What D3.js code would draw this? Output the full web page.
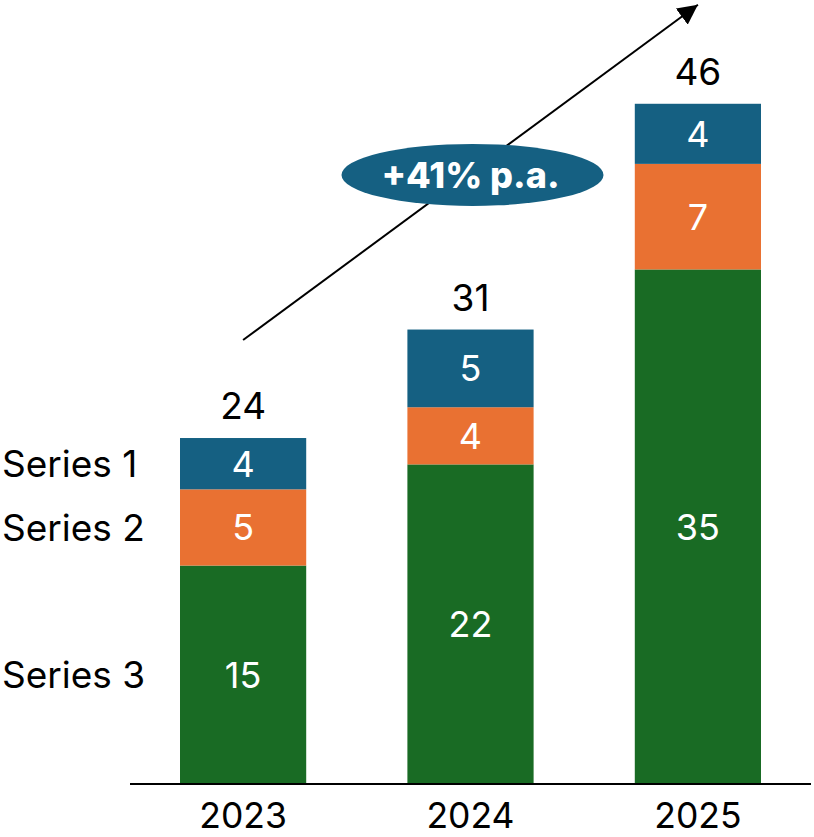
<!DOCTYPE html>
<html>
<head>
<meta charset="utf-8">
<script src="https://cdn.jsdelivr.net/npm/d3@7"></script>
<style>
  html, body { margin: 0; padding: 0; background: #ffffff; }
  svg { display: block; }
  text { font-family: Inter, "Liberation Sans", Arial, sans-serif; }
</style>
</head>
<body>
<svg id="chart" width="814" height="837"></svg>
<script>
// ---- data ----
const categories = ["2023", "2024", "2025"];
const seriesNames = ["Series 1", "Series 2", "Series 3"];
const series1 = [3.5, 5.3, 4.1];   // top (blue)
const series2 = [5.2, 3.9, 7.2];   // middle (orange)
const series3 = [14.9, 21.8, 35.1]; // bottom (green)
const seriesColors = ["#156082", "#E97132", "#196B24"];
const growthLabel = "+41% p.a.";

// ---- layout ----
const svg = d3.select("#chart");
const baseY = 784;

const x = d3.scaleBand().domain(categories).range([180, 761]).paddingInner(0.445).paddingOuter(0);
const y = d3.scaleLinear().domain([0, 50]).range([baseY, 51]);

// stack bottom -> top: series3, series2, series1
const rows = categories.map((c, i) => ({cat: c, s1: series1[i], s2: series2[i], s3: series3[i]}));
const stack = d3.stack().keys(["s3", "s2", "s1"]);
const stacked = stack(rows);
const colorByKey = {s1: seriesColors[0], s2: seriesColors[1], s3: seriesColors[2]};

const layers = svg.append("g").selectAll("g").data(stacked).join("g")
  .attr("fill", d => colorByKey[d.key]);

layers.selectAll("rect").data(d => d).join("rect")
  .attr("x", d => x(d.data.cat))
  .attr("width", x.bandwidth())
  .attr("y", d => y(d[1]))
  .attr("height", d => y(d[0]) - y(d[1]));

// inner value labels
layers.selectAll("text").data(d => d.map(v => ({v, key: d.key}))).join("text")
  .attr("x", d => x(d.v.data.cat) + x.bandwidth() / 2)
  .attr("y", d => (y(d.v[0]) + y(d.v[1])) / 2)
  .attr("dy", "0.36em")
  .attr("text-anchor", "middle")
  .attr("fill", "#ffffff")
  .attr("font-size", 36)
  .text(d => Math.round(d.v.data[d.key]));

// totals
const totals = rows.map(r => r.s1 + r.s2 + r.s3);
svg.append("g").selectAll("text").data(rows).join("text")
  .attr("x", d => x(d.cat) + x.bandwidth() / 2)
  .attr("y", (d, i) => y(totals[i]) - 19)
  .attr("text-anchor", "middle")
  .attr("fill", "#000000")
  .attr("font-size", 37)
  .text((d, i) => Math.round(totals[i]));

// x axis
const xAxis = d3.axisBottom(x).tickSize(0).tickPadding(0);
const ax = svg.append("g").attr("transform", `translate(0,${baseY})`).call(xAxis);
ax.select(".domain").remove();
ax.selectAll("text")
  .attr("font-family", "Inter, 'Liberation Sans', Arial, sans-serif")
  .attr("font-size", 35.5)
  .attr("fill", "#000")
  .attr("dy", null)
  .attr("y", 44);
svg.append("line")
  .attr("x1", 130).attr("x2", 811)
  .attr("y1", baseY).attr("y2", baseY)
  .attr("stroke", "#000").attr("stroke-width", 2);

// series labels on the left, aligned to first bar's segments
const first = stacked.map(layer => ({key: layer.key, seg: layer[0]}));
const nameByKey = {s1: seriesNames[0], s2: seriesNames[1], s3: seriesNames[2]};
svg.append("g").selectAll("text").data(first).join("text")
  .attr("x", 2)
  .attr("y", d => (y(d.seg[0]) + y(d.seg[1])) / 2)
  .attr("dy", "0.36em")
  .attr("fill", "#000")
  .attr("font-size", 37)
  .text(d => nameByKey[d.key]);

// growth arrow
const defs = svg.append("defs");
defs.append("marker")
  .attr("id", "arrowhead")
  .attr("viewBox", "0 0 10 10")
  .attr("refX", 10).attr("refY", 5)
  .attr("markerWidth", 20).attr("markerHeight", 20)
  .attr("markerUnits", "userSpaceOnUse")
  .attr("orient", "auto")
  .append("path").attr("d", "M0,0 L10,5 L0,10 Z").attr("fill", "#000");

const ax0 = x(categories[0]) + x.bandwidth() / 2;
const ay0 = y(totals[0]) - 98;
const ax1 = x(categories[2]) + x.bandwidth() / 2;
const ay1 = y(totals[2]) - 99;

svg.append("line")
  .attr("x1", ax0).attr("y1", ay0)
  .attr("x2", ax1).attr("y2", ay1)
  .attr("stroke", "#000").attr("stroke-width", 2)
  .attr("marker-end", "url(#arrowhead)");

// ellipse badge
const ex = x(categories[1]) + x.bandwidth() / 2 + 2;
const t = (ex - ax0) / (ax1 - ax0);
const ey = ay0 + t * (ay1 - ay0) + 4;
svg.append("ellipse")
  .attr("cx", ex).attr("cy", ey)
  .attr("rx", 131).attr("ry", 31)
  .attr("fill", seriesColors[0]);
svg.append("text")
  .attr("x", ex - 2).attr("y", ey)
  .attr("dy", "0.36em")
  .attr("text-anchor", "middle")
  .attr("fill", "#fff")
  .attr("font-weight", "800")
  .attr("font-size", 36)
  .text(growthLabel);
</script>
</body>
</html>
